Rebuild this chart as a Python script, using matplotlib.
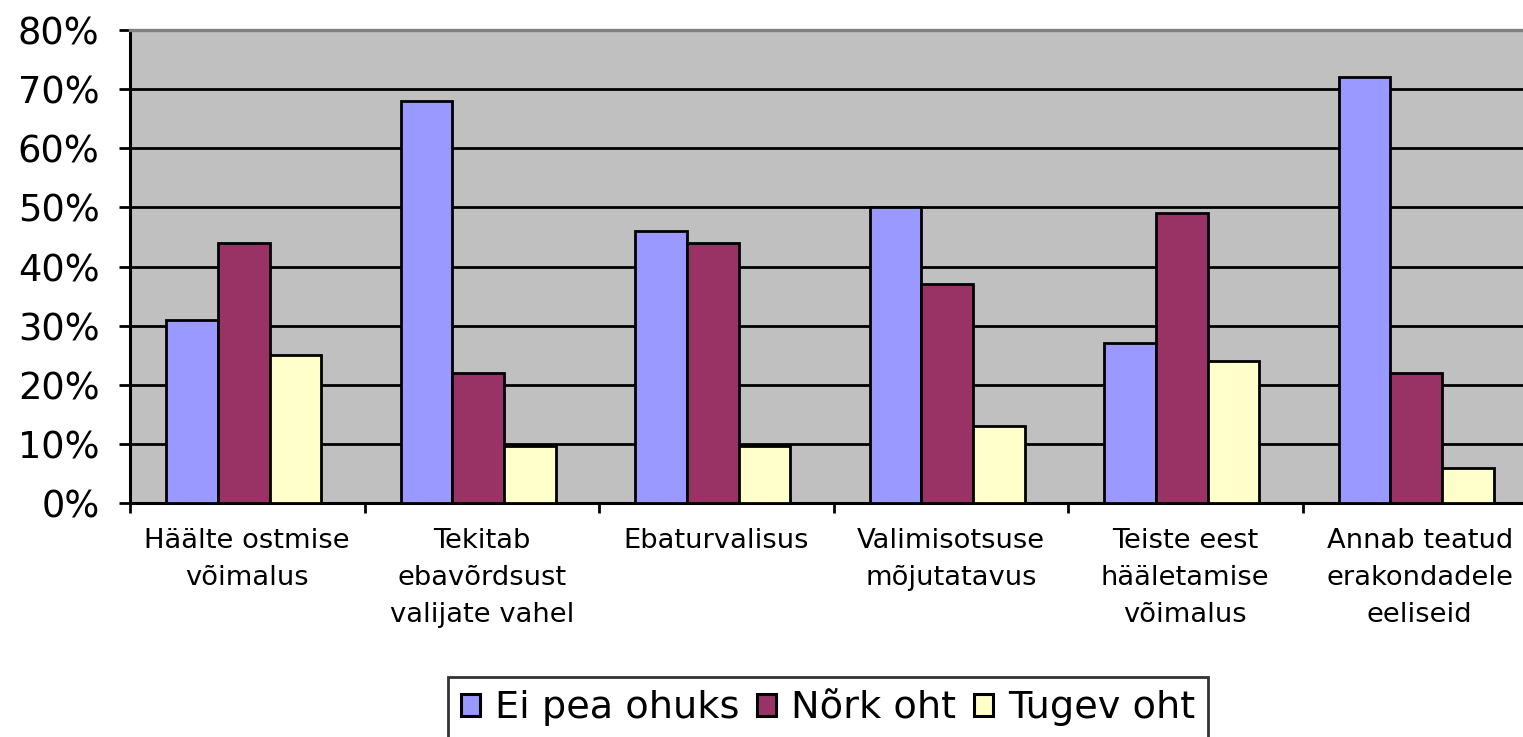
import numpy as np
import matplotlib
matplotlib.use("Agg")
import matplotlib.pyplot as plt
from matplotlib.ticker import FixedLocator, PercentFormatter

categories = ["Häälte ostmise\nvõimalus",
              "Tekitab\nebavõrdsust\nvalijate vahel",
              "Ebaturvalisus",
              "Valimisotsuse\nmõjutatavus",
              "Teiste eest\nhääletamise\nvõimalus",
              "Annab teatud\nerakondadele\neeliseid"]
series_names = ["Ei pea ohuks", "Nõrk oht", "Tugev oht"]
ei_pea_ohuks = [31, 68, 46, 50, 27, 72]
nork_oht = [44, 22, 44, 37, 49, 22]
tugev_oht = [25, 9.7, 9.7, 13, 24, 6]
colors = ["#9999FF", "#993366", "#FFFFCC"]

plt.rcParams["font.family"] = ["DejaVu Sans"]

fig = plt.figure(figsize=(15.23, 7.37), dpi=100)
# plot area runs off the right edge like in the original
ax = fig.add_axes([130 / 1523, 1 - 503 / 737, (1537 - 130) / 1523, (503 - 30) / 737])
ax.set_facecolor("#C0C0C0")

x = np.arange(len(categories))
w = 0.22
for i, (vals, name) in enumerate(zip([ei_pea_ohuks, nork_oht, tugev_oht], series_names)):
    ax.bar(x - 0.015 + (i - 1) * w, vals, width=w, color=colors[i], edgecolor="black",
           linewidth=2.0, label=name, zorder=3)

ax.set_xlim(-0.5, len(categories) - 0.5)
ax.set_ylim(0, 80)
ax.set_yticks(np.arange(0, 81, 10))
ax.yaxis.set_major_formatter(PercentFormatter(decimals=0))
ax.grid(axis="y", color="black", linewidth=2.0, zorder=1)
ax.set_axisbelow(True)

ax.xaxis.set_major_locator(FixedLocator(np.arange(-0.5, len(categories), 1.0)))
ax.xaxis.set_minor_locator(FixedLocator(x))
ax.set_xticklabels([])
ax.set_xticklabels(categories, minor=True, fontsize=19.7, linespacing=1.55, va="top")
ax.tick_params(axis="x", which="major", length=7, width=2, direction="out")
ax.tick_params(axis="x", which="minor", length=0, pad=18)
ax.tick_params(axis="y", length=8, width=2, direction="out", labelsize=26.5, pad=14)

for s in ["left", "bottom"]:
    ax.spines[s].set_linewidth(2.2)
    ax.spines[s].set_color("black")
ax.spines["top"].set_color("#808080")
ax.spines["top"].set_linewidth(2.4)
ax.spines["right"].set_visible(False)

leg = fig.legend(loc="upper center", bbox_to_anchor=(828 / 1523, 1 - 677 / 737), ncol=3,
                 fontsize=27.5, frameon=True, fancybox=False, edgecolor="black",
                 handlelength=0.5, handleheight=0.5, handletextpad=0.4,
                 columnspacing=0.45, borderpad=0.35, borderaxespad=0)
leg.get_frame().set_linewidth(2.0)
for h in leg.legend_handles:
    h.set_linewidth(2.2)

fig.savefig("out.png", dpi=100, facecolor="white")
